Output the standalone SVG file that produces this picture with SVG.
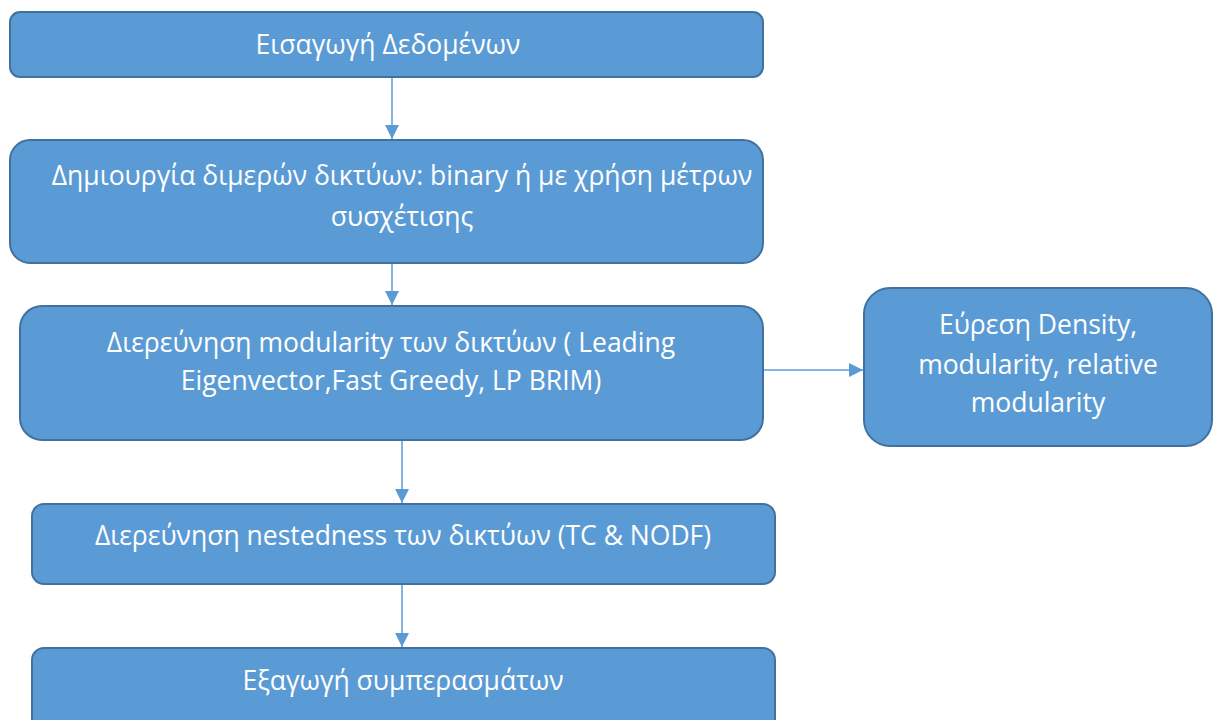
<svg xmlns="http://www.w3.org/2000/svg" width="1213" height="720" viewBox="0 0 1213 720">
  <defs>
    <marker id="arrow" markerWidth="14" markerHeight="14" refX="14" refY="7" orient="auto" markerUnits="userSpaceOnUse">
      <path d="M0,0 L14,7 L0,14 Z" fill="#5B9BD5"/>
    </marker>
    <style>
      .box { fill: #5B9BD5; stroke: #41719C; stroke-width: 2; }
      .lbl { fill: #FFFFFF; font-family: "Open Sans", "Liberation Sans", sans-serif; font-size: 26.5px; text-anchor: middle; }
      .conn { stroke: #5B9BD5; stroke-width: 1.5; fill: none; marker-end: url(#arrow); }
    </style>
  </defs>
  <rect width="1213" height="720" fill="#FFFFFF"/>

  <g id="connectors">
    <line class="conn" x1="392" y1="77" x2="392" y2="139"/>
    <line class="conn" x1="392" y1="264" x2="392" y2="305"/>
    <line class="conn" x1="402" y1="441" x2="402" y2="503"/>
    <line class="conn" x1="402" y1="585" x2="402" y2="647"/>
    <line class="conn" x1="763" y1="370" x2="863" y2="370"/>
  </g>

  <g id="input">
    <rect class="box" x="10" y="12" width="753" height="65" rx="10"/>
    <text class="lbl" x="388" y="54">Εισαγωγή Δεδομένων</text>
  </g>

  <g id="bipartite">
    <rect class="box" x="10" y="140" width="753" height="123" rx="20"/>
    <text class="lbl" x="402" y="185">Δημιουργία διμερών δικτύων: binary ή με χρήση μέτρων</text>
    <text class="lbl" x="402" y="226">συσχέτισης</text>
  </g>

  <g id="modularity">
    <rect class="box" x="20" y="306" width="743" height="134" rx="22"/>
    <text class="lbl" x="391" y="352">Διερεύνηση modularity των δικτύων ( Leading</text>
    <text class="lbl" x="391" y="390">Eigenvector,Fast Greedy, LP BRIM)</text>
  </g>

  <g id="density">
    <rect class="box" x="864" y="288" width="348" height="158" rx="26"/>
    <text class="lbl" x="1038" y="334">Εύρεση Density,</text>
    <text class="lbl" x="1038" y="374">modularity, relative</text>
    <text class="lbl" x="1038" y="412">modularity</text>
  </g>

  <g id="nestedness">
    <rect class="box" x="32" y="504" width="743" height="80" rx="12"/>
    <text class="lbl" x="403" y="545">Διερεύνηση nestedness των δικτύων (TC &amp; NODF)</text>
  </g>

  <g id="conclusions">
    <rect class="box" x="32" y="648" width="743" height="90" rx="12"/>
    <text class="lbl" x="403" y="690">Εξαγωγή συμπερασμάτων</text>
  </g>
</svg>
